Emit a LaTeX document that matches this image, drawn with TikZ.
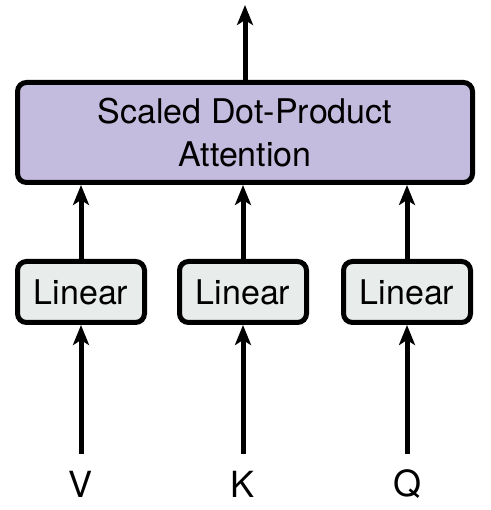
\documentclass[tikz,border=0pt]{standalone}
\usepackage{fontspec}
\setmainfont{TeX Gyre Heros}
\usetikzlibrary{arrows.meta}
\definecolor{attnfill}{HTML}{C4BCDE}
\definecolor{linfill}{HTML}{E8ECEA}
\tikzset{
  box/.style={draw=black, line width=5pt, rounded corners=9pt, inner sep=0pt, align=center},
  attnbox/.style={box, fill=attnfill, minimum width=455pt, minimum height=100pt, font=\fontsize{34}{43}\selectfont},
  linbox/.style={box, fill=linfill, minimum width=127pt, minimum height=61pt, font=\fontsize{34}{40}\selectfont},
  lbl/.style={font=\fontsize{36}{40}\selectfont, inner sep=0pt},
  conn/.style={line width=5pt, -{Stealth[length=20pt,width=16pt,inset=5pt]}}
}
\begin{document}
\begin{tikzpicture}[x=1pt,y=1pt]
\useasboundingbox (0,0) rectangle (490,510);
\node[attnbox] (attn) at (245,377.5) {Scaled Dot-Product\\Attention};
\node[linbox] (linV) at (81,218) {Linear};
\node[linbox] (linK) at (243,218) {Linear};
\node[linbox] (linQ) at (407,218) {Linear};
\node[lbl] (V) at (81,26) {V};
\node[lbl] (K) at (243,26) {K};
\node[lbl] (Q) at (407,26) {Q};
\coordinate (out) at (245,505);
\coordinate (vs) at (81,56);
\coordinate (ks) at (243,56);
\coordinate (qs) at (407,56);
\draw[conn] (attn.north) -- (out);
\draw[conn] (linV.north) -- (attn.south -| linV.north);
\draw[conn] (linK.north) -- (attn.south -| linK.north);
\draw[conn] (linQ.north) -- (attn.south -| linQ.north);
\draw[conn] (vs) -- (linV.south);
\draw[conn] (ks) -- (linK.south);
\draw[conn] (qs) -- (linQ.south);
\end{tikzpicture}
\end{document}
